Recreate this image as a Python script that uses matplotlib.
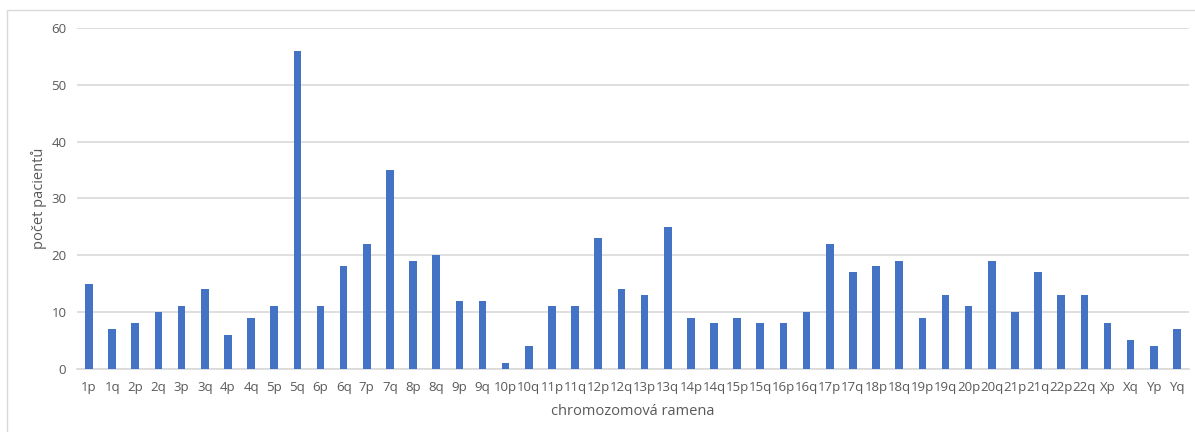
import numpy as np
import matplotlib
matplotlib.use("Agg")
import matplotlib.pyplot as plt
from matplotlib.patches import Rectangle

# Počet pacientů s aberací podle chromozomového ramene
ramena = ["1p", "1q", "2p", "2q", "3p", "3q", "4p", "4q", "5p", "5q",
          "6p", "6q", "7p", "7q", "8p", "8q", "9p", "9q", "10p", "10q",
          "11p", "11q", "12p", "12q", "13p", "13q", "14p", "14q", "15p", "15q",
          "16p", "16q", "17p", "17q", "18p", "18q", "19p", "19q", "20p", "20q",
          "21p", "21q", "22p", "22q", "Xp", "Xq", "Yp", "Yq"]
pacienti = [15, 7, 8, 10, 11, 14, 6, 9, 11, 56,
            11, 18, 22, 35, 19, 20, 12, 12, 1, 4,
            11, 11, 23, 14, 13, 25, 9, 8, 9, 8,
            8, 10, 22, 17, 18, 19, 9, 13, 11, 19,
            10, 17, 13, 13, 8, 5, 4, 7]

BAR_COLOR = "#4472C4"
GRID_COLOR = "#D9D9D9"
TEXT_COLOR = "#595959"

plt.rcParams["font.family"] = ["Open Sans", "DejaVu Sans"]

fig = plt.figure(figsize=(11.95, 4.32), dpi=100)
ax = fig.add_axes([0.0648, 0.1465, 0.9298, 0.7887])

# rámeček kolem celého grafu
fig.patches.append(Rectangle((7 / 1195, -0.1), 1.2, 1.1 - 10.5 / 432,
                             transform=fig.transFigure, fill=False,
                             edgecolor=GRID_COLOR, linewidth=1))

x = np.arange(len(ramena))
ax.bar(x, pacienti, width=0.33, color=BAR_COLOR, zorder=3)

ax.set_xlim(-0.5, len(ramena) - 0.5)
ax.set_ylim(0, 60)
ax.set_yticks(np.arange(0, 61, 10))
ax.set_xticks(x)
ax.set_xticklabels(ramena)
ax.yaxis.grid(True, color=GRID_COLOR, linewidth=1.2)
ax.set_axisbelow(True)

for side in ["top", "right", "left"]:
    ax.spines[side].set_visible(False)
ax.spines["bottom"].set_color(GRID_COLOR)
ax.spines["bottom"].set_linewidth(1.2)

ax.tick_params(axis="both", length=0, colors=TEXT_COLOR, labelsize=9.5)
ax.tick_params(axis="x", pad=9)
ax.tick_params(axis="y", pad=8)

ax.set_xlabel("chromozomová ramena", color=TEXT_COLOR, fontsize=10.5, labelpad=7)
ax.set_ylabel("počet pacientů", color=TEXT_COLOR, fontsize=10.5, labelpad=3)

fig.savefig("out.png", dpi=100)
